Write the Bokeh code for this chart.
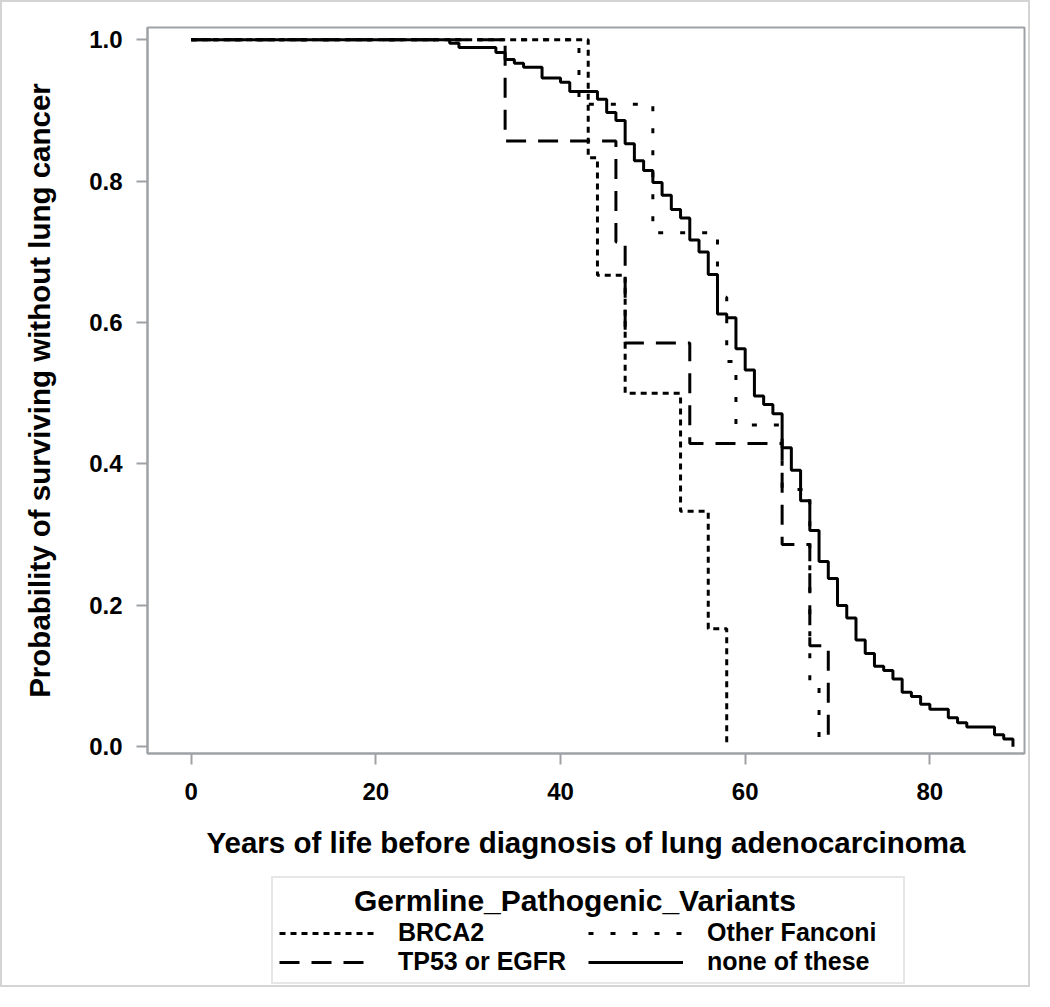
from bokeh.plotting import figure
from bokeh.layouts import column
from bokeh.models import Range1d, Legend, LegendItem, FixedTicker
from bokeh.embed import file_html
from bokeh.resources import INLINE

# ---- data ----
brca2_years = [0, 43, 44, 47, 53, 56, 58]
brca2_surv = [1.0, 0.833, 0.667, 0.5, 0.333, 0.167, 0.0]

fanconi_years = [0, 42, 50, 57, 58, 59, 64, 67, 68]
fanconi_surv = [1.0, 0.909, 0.727, 0.636, 0.545, 0.455, 0.364, 0.091, 0.0]

tp53_years = [0, 34, 46, 47, 54, 64, 67, 69]
tp53_surv = [1.0, 0.857, 0.714, 0.571, 0.429, 0.286, 0.143, 0.0]

none_years = [0, 28, 29, 33, 34, 35, 36, 38, 40, 41,
              44, 45, 46, 47, 48, 49, 50, 51, 52, 53,
              54, 55, 56, 57, 58, 59, 60, 61, 62, 63,
              64, 65, 66, 67, 68, 69, 70, 71, 72, 73,
              74, 75, 76, 77, 78, 79, 80, 82, 83, 84,
              87, 88, 89]
none_surv = [1.0, 0.995, 0.989, 0.982, 0.972, 0.967, 0.961, 0.946, 0.940, 0.927,
             0.916, 0.897, 0.886, 0.853, 0.829, 0.815, 0.798, 0.780, 0.760, 0.748,
             0.717, 0.700, 0.668, 0.612, 0.607, 0.563, 0.533, 0.496, 0.484, 0.471,
             0.423, 0.391, 0.348, 0.306, 0.262, 0.238, 0.200, 0.182, 0.151, 0.132,
             0.114, 0.108, 0.096, 0.077, 0.071, 0.060, 0.053, 0.041, 0.034, 0.028,
             0.017, 0.011, 0.0]

series_labels = ["BRCA2", "Other Fanconi", "TP53 or EGFR", "none of these"]
x_ticks = [0, 20, 40, 60, 80]
y_ticks = [0.0, 0.2, 0.4, 0.6, 0.8, 1.0]
y_tick_labels = ["0.0", "0.2", "0.4", "0.6", "0.8", "1.0"]
x_title = "Years of life before diagnosis of lung adenocarcinoma"
y_title = "Probability of surviving without lung cancer"
legend_title = "Germline_Pathogenic_Variants"

series = [(series_labels[0], brca2_years, brca2_surv),
          (series_labels[1], fanconi_years, fanconi_surv),
          (series_labels[2], tp53_years, tp53_surv),
          (series_labels[3], none_years, none_surv)]

# ---- styling ----
FONT = "Liberation Sans"
GRAY = "#9ea1a5"
BORDER = "2px solid #d4d4d4"
DASH = {"BRCA2": "6 5", "Other Fanconi": "5 17", "TP53 or EGFR": "20 12",
        "none of these": "solid"}

# ---------------- main chart ----------------
p = figure(width=1030, height=870, output_backend="svg", toolbar_location=None,
           x_range=Range1d(-4.73, 90.25), y_range=Range1d(-0.0095, 1.0174),
           min_border_left=145, min_border_right=8, min_border_top=25,
           min_border_bottom=119)
p.styles = {"border-left": BORDER, "border-right": BORDER, "border-top": BORDER}
p.xgrid.visible = False
p.ygrid.visible = False
p.outline_line_color = GRAY
p.outline_line_width = 2
p.background_fill_color = "white"
p.border_fill_color = "white"

for ax in (p.xaxis[0], p.yaxis[0]):
    ax.axis_line_color = GRAY
    ax.axis_line_width = 2
    ax.major_tick_line_color = GRAY
    ax.major_tick_line_width = 2
    ax.major_tick_in = 0
    ax.major_tick_out = 11
    ax.minor_tick_line_color = None
    ax.major_label_text_font = FONT
    ax.major_label_text_font_style = "bold"
    ax.major_label_text_font_size = "24px"
    ax.major_label_text_color = "black"
    ax.axis_label_text_font = FONT
    ax.axis_label_text_font_style = "bold"
    ax.axis_label_text_font_size = "29.5px"
    ax.axis_label_text_color = "black"

p.xaxis.major_label_standoff = 18
p.yaxis.major_label_standoff = 14
p.xaxis.ticker = FixedTicker(ticks=x_ticks)
p.yaxis.ticker = FixedTicker(ticks=y_ticks)
p.yaxis.major_label_overrides = {t: l for t, l in zip(y_ticks, y_tick_labels)}
p.xaxis.axis_label = x_title
p.yaxis.axis_label = y_title
p.xaxis.axis_label_standoff = 23
p.yaxis.axis_label_standoff = 30

for lab, xs, ys in series:
    p.step(xs, ys, mode="after", line_color="black", line_width=3,
           line_dash=DASH[lab])

# ---------------- legend strip ----------------
# same series drawn again, but outside this strip's visible range, so that
# only the legend (which samples their line styles) shows
q = figure(width=1030, height=117, output_backend="svg", toolbar_location=None,
           x_range=Range1d(1000, 1001), y_range=Range1d(1000, 1001),
           x_axis_location=None, y_axis_location=None, min_border=0)
q.styles = {"border-left": BORDER, "border-right": BORDER, "border-bottom": BORDER}
q.xgrid.visible = False
q.ygrid.visible = False
q.outline_line_color = None
q.background_fill_color = "white"
q.border_fill_color = "white"

items = []
for lab, xs, ys in series:
    r = q.step(xs, ys, mode="after", line_color="black", line_width=3,
               line_dash=DASH[lab])
    items.append(LegendItem(label=lab, renderers=[r]))

legend = Legend(items=items, orientation="horizontal", ncols=2,
                title="\u00a0" * 9 + legend_title, location=(124, 3))
legend.title_text_font = FONT
legend.title_text_font_style = "bold"
legend.title_text_font_size = "30px"
legend.title_text_color = "black"
legend.title_standoff = 0
legend.label_text_font = FONT
legend.label_text_font_style = "bold"
legend.label_text_font_size = "25px"
legend.label_text_color = "black"
legend.glyph_width = 95
legend.glyph_height = 20
legend.label_standoff = 24
legend.label_width = 190
legend.spacing = 0
legend.padding = 6
legend.margin = 0
legend.border_line_color = "#cfcfcf"
legend.border_line_width = 2
legend.background_fill_color = "white"
legend.background_fill_alpha = 1.0
q.add_layout(legend, "center")

layout = column(p, q, spacing=0)
open("out.html", "w").write(file_html(layout, INLINE))
